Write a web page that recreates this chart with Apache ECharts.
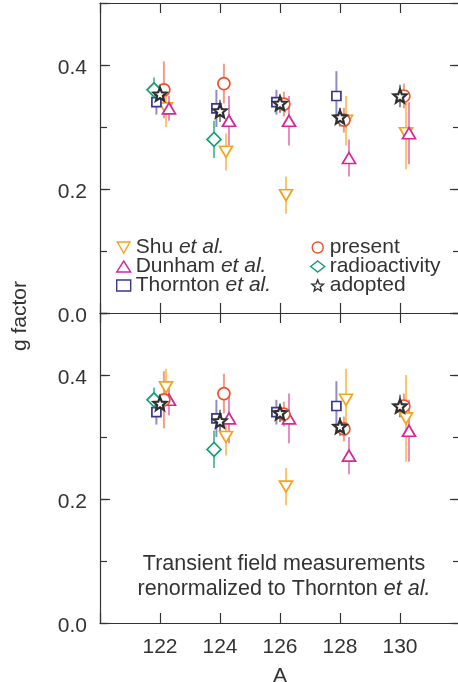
<!DOCTYPE html>
<html>
<head>
<meta charset="utf-8">
<script src="https://cdn.jsdelivr.net/npm/echarts@6/dist/echarts.min.js"></script>
<style>
  html, body { margin: 0; padding: 0; background: #fff; }
  #chart { width: 458px; height: 682px; }
</style>
</head>
<body>
<div id="chart"></div>
<script>
// mass numbers
const A = [122, 124, 126, 128, 130];

// top panel: values as measured
const shuTop = [0.33, 0.26, 0.19, 0.31, 0.29];
const shuTopErr = [0.03, 0.03, 0.03, 0.04, 0.058];
const dunhamTop = [0.33, 0.31, 0.31, 0.25, 0.29];
const dunhamTopErr = [0.02, 0.04, 0.04, 0.03, 0.05];
const thorntonTop = [0.34, 0.33, 0.34, 0.35, null];
const thorntonTopErr = [0.02, 0.03, 0.02, 0.04, null];
const presentTop = [0.36, 0.37, 0.337, 0.311, 0.35];
const presentTopErr = [0.046, 0.032, 0.02, 0.02, 0.02];
const radioTop = [0.36, 0.28, null, null, null];
const radioTopErr = [0.02, 0.03, null, null, null];
const adoptedTop = [0.353, 0.326, 0.338, 0.316, 0.35];
const adoptedTopErr = [0.015, 0.018, 0.015, 0.015, 0.018];

// bottom panel: transient field values renormalized to Thornton et al.
const shuBot = [0.38, 0.30, 0.22, 0.36, 0.33];
const shuBotErr = [0.03, 0.03, 0.03, 0.05, 0.07];
const dunhamBot = [0.36, 0.33, 0.33, 0.27, 0.31];
const dunhamBotErr = [0.025, 0.04, 0.04, 0.03, 0.05];
const thorntonBot = [0.34, 0.33, 0.34, 0.35, null];
const thorntonBotErr = [0.02, 0.03, 0.02, 0.04, null];
const presentBot = [0.36, 0.37, 0.337, 0.313, 0.35];
const presentBotErr = [0.046, 0.032, 0.02, 0.02, 0.02];
const radioBot = [0.36, 0.28, null, null, null];
const radioBotErr = [0.02, 0.03, null, null, null];
const adoptedBot = [0.354, 0.326, 0.339, 0.317, 0.35];
const adoptedBotErr = [0.015, 0.018, 0.015, 0.015, 0.018];

const xTicks = [122, 124, 126, 128, 130];
const yTickLabels = ['0.0', '0.2', '0.4'];

const FONT = '"Liberation Sans", Arial, Helvetica, sans-serif';
const TXT = '#333';

const STAR = 'path://M50,2L62.93,34.2L97.55,36.55L70.92,58.8L79.39,92.45L50,74L20.61,92.45L29.08,58.8L2.45,36.55L37.07,34.2Z';
const DOWN = 'path://M0,0L10,0L5,8.66Z';

const sets = [
  { name: 'Shu', symbol: DOWN, size: [13, 11], dx: 0.2, color: '#f6a31c', bar: '#fcc768',
    top: [shuTop, shuTopErr], bot: [shuBot, shuBotErr] },
  { name: 'Dunham', symbol: 'triangle', size: [13, 11], dx: 0.3, color: '#d5279a', bar: '#e88cc6',
    top: [dunhamTop, dunhamTopErr], bot: [dunhamBot, dunhamBotErr] },
  { name: 'Thornton', symbol: 'rect', size: 9, dx: -0.12, color: '#3c3592', bar: '#8f8cc6',
    top: [thorntonTop, thorntonTopErr], bot: [thorntonBot, thorntonBotErr] },
  { name: 'present', symbol: 'circle', size: 12, dx: 0.13, color: '#e9522c', bar: '#f29d86',
    top: [presentTop, presentTopErr], bot: [presentBot, presentBotErr] },
  { name: 'radioactivity', symbol: 'diamond', size: 14, dx: -0.2, color: '#14a072', bar: '#5fc39e',
    top: [radioTop, radioTopErr], bot: [radioBot, radioBotErr] },
  { name: 'adopted', symbol: STAR, size: 13, dx: 0, color: '#2f2f2f', bar: '#8a8a8a',
    top: [adoptedTop, adoptedTopErr], bot: [adoptedBot, adoptedBotErr] }
];

function points(vals, errs, dx) {
  const out = [];
  A.forEach((a, i) => {
    if (vals[i] != null) out.push([a + dx, vals[i], errs[i]]);
  });
  return out;
}

const chart = echarts.init(document.getElementById('chart'), null, { renderer: 'canvas' });

const grids = [
  { left: 100, top: 3, width: 360, height: 310, outerBoundsMode: 'none' },
  { left: 100, top: 313, width: 360, height: 310, outerBoundsMode: 'none' }
];

const axisLine = { show: true, onZero: false, lineStyle: { color: TXT, width: 1.2 } };
const tick = (len) => ({ show: true, inside: true, length: len, lineStyle: { color: TXT, width: 1.2 } });

const xAxes = [];
const yAxes = [];
[0, 1].forEach(g => {
  xAxes.push({
    type: 'value', gridIndex: g, position: 'bottom', min: 120, max: 132, interval: 2,
    axisLine: axisLine, axisTick: tick(10), splitLine: { show: false },
    axisLabel: {
      show: g === 1, margin: 14, fontSize: 21, fontFamily: FONT, color: TXT,
      formatter: v => (xTicks.indexOf(v) >= 0 ? String(v) : '')
    }
  });
  xAxes.push({
    type: 'value', gridIndex: g, position: 'top', min: 120, max: 132, interval: 2,
    axisLine: axisLine, axisTick: tick(10), splitLine: { show: false }, axisLabel: { show: false }
  });
  ['left', 'right'].forEach(side => {
    yAxes.push({
      type: 'value', gridIndex: g, position: side, min: 0, max: 0.5, interval: 0.2,
      axisLine: axisLine, axisTick: tick(10), splitLine: { show: false },
      axisLabel: {
        show: side === 'left', margin: 13, fontSize: 21, fontFamily: FONT, color: TXT,
        rich: { v: { fontSize: 21, fontFamily: FONT, color: TXT, padding: [6, 0, 0, 0] } },
        formatter: v => {
          const s = v.toFixed(1);
          return yTickLabels.indexOf(s) >= 0 ? '{v|' + s + '}' : '';
        }
      }
    });
    yAxes.push({
      type: 'value', gridIndex: g, position: side, min: 0, max: 0.5, interval: 0.1,
      axisLine: { show: false }, axisTick: tick(7), splitLine: { show: false },
      axisLabel: { show: false }
    });
  });
});

const series = [];
[0, 1].forEach(g => {
  const xi = g * 2;
  const yi = g * 4;
  sets.forEach(s => {
    const [vals, errs] = g === 0 ? s.top : s.bot;
    const bar = s.bar;
    series.push({
      type: 'custom', xAxisIndex: xi, yAxisIndex: yi, silent: true,
      data: points(vals, errs, s.dx),
      renderItem: (params, api) => {
        const x = api.value(0), y = api.value(1), e = api.value(2);
        const p1 = api.coord([x, y + e]);
        const p2 = api.coord([x, y - e]);
        return {
          type: 'line',
          shape: { x1: p1[0], y1: p1[1], x2: p2[0], y2: p2[1] },
          style: { stroke: bar, lineWidth: 2 }
        };
      }
    });
  });
  sets.forEach(s => {
    const [vals, errs] = g === 0 ? s.top : s.bot;
    series.push({
      type: 'scatter', name: s.name, xAxisIndex: xi, yAxisIndex: yi, silent: true,
      symbol: s.symbol, symbolSize: s.size,
      itemStyle: { color: '#fff', borderColor: s.color, borderWidth: s.name === 'adopted' ? 2.2 : 1.7, opacity: 1 },
      data: points(vals, errs, s.dx).map(p => [p[0], p[1]])
    });
  });
});

const italicNames = { Shu: true, Dunham: true, Thornton: true };
const legendText = {
  fontSize: 21, fontFamily: FONT, color: TXT, lineHeight: 19,
  rich: { i: { fontSize: 21, fontFamily: FONT, color: TXT, fontStyle: 'italic', lineHeight: 19 } }
};
function legendItem(s) {
  return {
    name: s.name, icon: s.symbol,
    itemStyle: { color: '#fff', borderColor: s.color, borderWidth: 1.4 }
  };
}
const legendBase = {
  orient: 'vertical', padding: 0, itemGap: -2, itemWidth: 14, itemHeight: 11,
  selectedMode: false, textStyle: legendText,
  formatter: name => (italicNames[name] ? name + ' {i|et al.}' : name)
};

chart.setOption({
  animation: false,
  backgroundColor: '#fff',
  textStyle: { fontFamily: FONT },
  grid: grids,
  xAxis: xAxes,
  yAxis: yAxes,
  legend: [
    Object.assign({}, legendBase, { left: 116, top: 237, data: sets.slice(0, 3).map(legendItem) }),
    Object.assign({}, legendBase, { left: 310, top: 237, data: sets.slice(3).map(legendItem) })
  ],
  series: series,
  graphic: [
    {
      type: 'text', x: 20, y: 316, rotation: Math.PI / 2,
      style: { text: 'g factor', font: '21px ' + FONT, fill: TXT, textAlign: 'center', textVerticalAlign: 'middle' }
    },
    {
      type: 'text', x: 280, y: 676,
      style: { text: 'A', font: '21px ' + FONT, fill: TXT, textAlign: 'center', textVerticalAlign: 'middle' }
    },
    {
      type: 'text', x: 284, y: 577,
      style: {
        text: 'Transient field measurements\nrenormalized to Thornton {i|et al.}',
        font: '21.5px ' + FONT, fill: TXT, textAlign: 'center', textVerticalAlign: 'middle', lineHeight: 25,
        rich: { i: { fontStyle: 'italic', fontSize: 21.5, fontFamily: FONT, fill: TXT, lineHeight: 25 } }
      }
    }
  ]
});
</script>
</body>
</html>
